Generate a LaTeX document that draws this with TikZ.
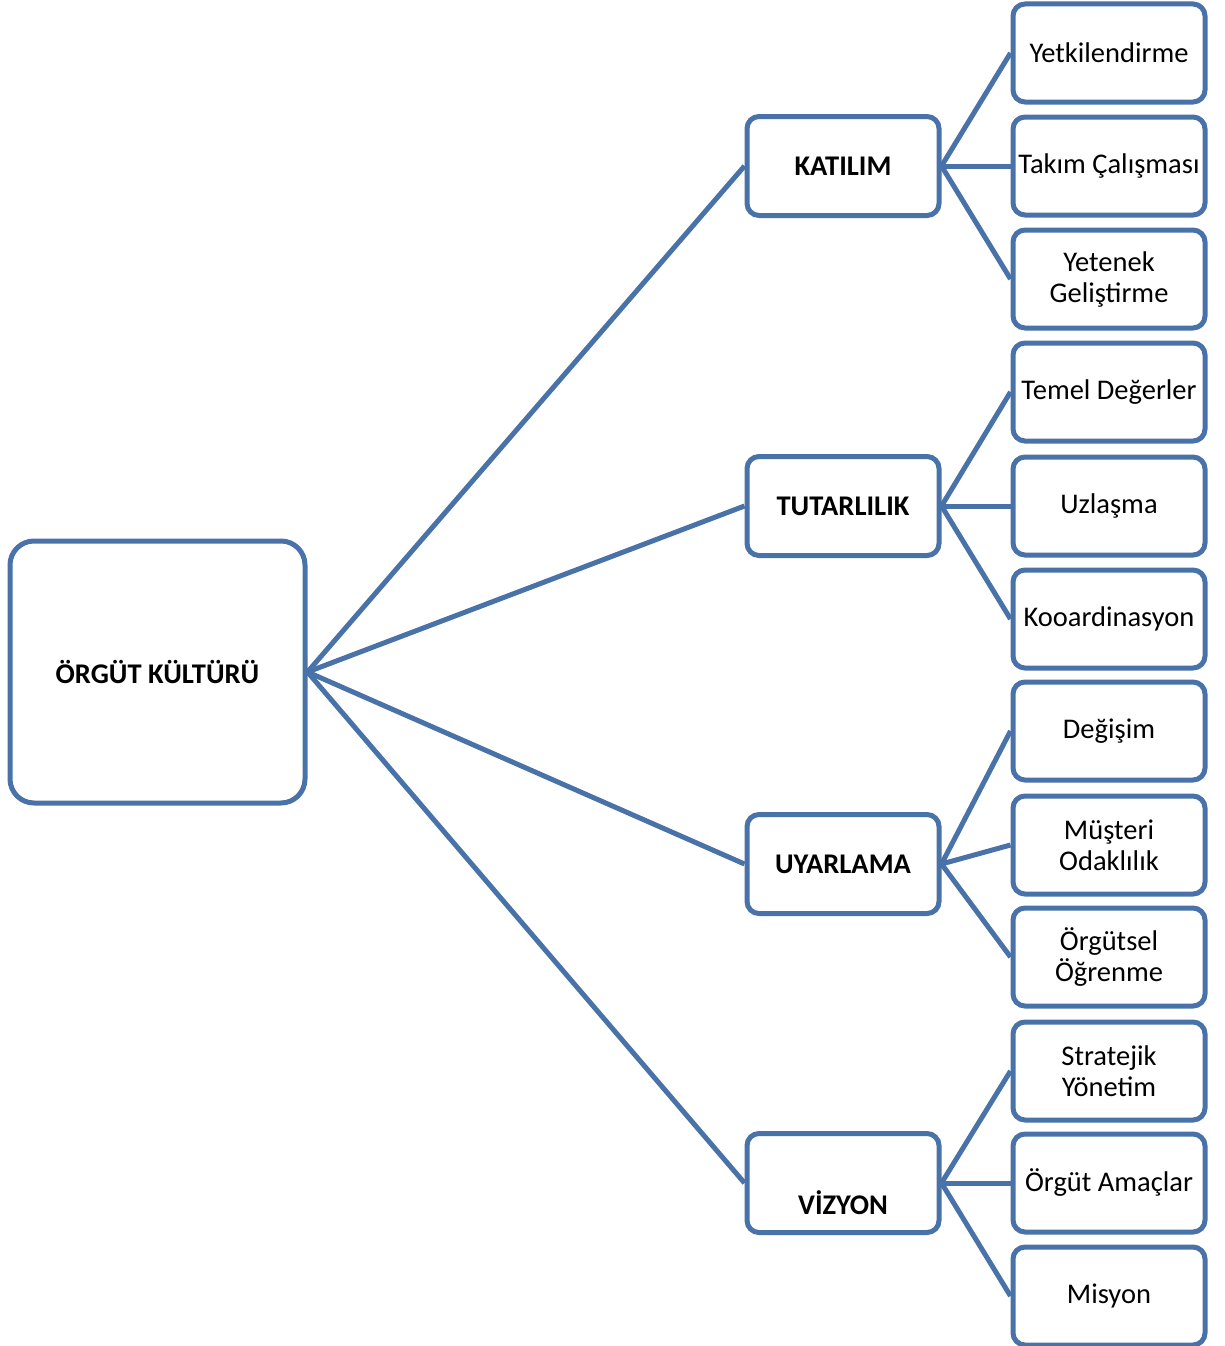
\documentclass[tikz,border=0pt]{standalone}
\usepackage{fontspec}
\setmainfont{Carlito}
\definecolor{boxblue}{RGB}{72,114,168}
\begin{document}
\begin{tikzpicture}[x=1pt,y=-1pt,
  box/.style={draw=boxblue, line width=5pt, fill=white, inner sep=0pt, align=center},
  rootbox/.style={box, rounded corners=24pt, minimum width=295pt, minimum height=262pt,
    font=\fontsize{28.5}{32}\selectfont\bfseries},
  midbox/.style={box, rounded corners=12pt, minimum width=192pt, minimum height=99pt,
    font=\fontsize{28.5}{32}\selectfont\bfseries},
  leafbox/.style={box, rounded corners=12pt, minimum width=192pt, minimum height=98pt,
    font=\fontsize{28.5}{31}\selectfont},
  link/.style={draw=boxblue, line width=5pt}]
\useasboundingbox (0,0) rectangle (1225,1346);

% main concept
\node[rootbox] (root) at (157.5,672) {ÖRGÜT KÜLTÜRÜ};

% four dimensions
\node[midbox] (kat) at (843,166) {KATILIM};
\node[midbox] (tut) at (843,506) {TUTARLILIK};
\node[midbox] (uya) at (843,864) {UYARLAMA};
\node[midbox] (viz) at (843,1183) {\raisebox{-31pt}[0pt][0pt]{VİZYON}};

% sub-items
\node[leafbox] (l1)  at (1109,53)   {Yetkilendirme};
\node[leafbox] (l2)  at (1109,166)  {Takım Çalışması};
\node[leafbox] (l3)  at (1109,279)  {Yetenek\\Geliştirme};
\node[leafbox] (l4)  at (1109,392)  {Temel Değerler};
\node[leafbox] (l5)  at (1109,506)  {Uzlaşma};
\node[leafbox] (l6)  at (1109,619)  {Kooardinasyon};
\node[leafbox] (l7)  at (1109,731)  {Değişim};
\node[leafbox] (l8)  at (1109,845)  {Müşteri\\Odaklılık};
\node[leafbox] (l9)  at (1109,957)  {Örgütsel\\Öğrenme};
\node[leafbox] (l10) at (1109,1071) {Stratejik\\Yönetim};
\node[leafbox] (l11) at (1109,1183) {Örgüt Amaçlar};
\node[leafbox] (l12) at (1109,1296) {Misyon};

% connectors
\foreach \m in {kat,tut,uya,viz} \draw[link] (root.east) -- (\m.west);
\foreach \l in {l1,l2,l3} \draw[link] (kat.east) -- (\l.west);
\foreach \l in {l4,l5,l6} \draw[link] (tut.east) -- (\l.west);
\foreach \l in {l7,l8,l9} \draw[link] (uya.east) -- (\l.west);
\foreach \l in {l10,l11,l12} \draw[link] (viz.east) -- (\l.west);
\end{tikzpicture}
\end{document}
